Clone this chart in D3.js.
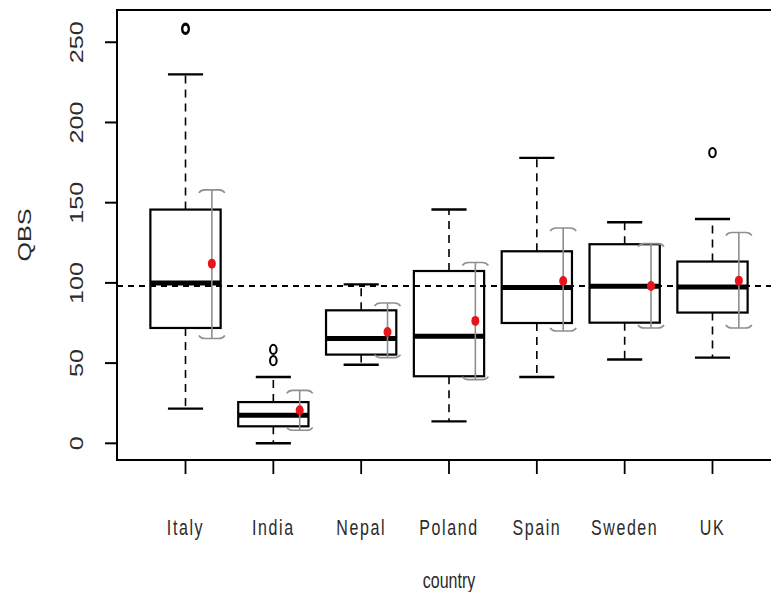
<!DOCTYPE html>
<html>
<head>
<meta charset="utf-8">
<script src="https://cdn.jsdelivr.net/npm/d3@7"></script>
<style>
  html, body { margin: 0; padding: 0; background: #fff; }
  svg { display: block; }
  text { font-family: "Liberation Sans", Arial, sans-serif; fill: #2b2b2b; }
</style>
</head>
<body>
<svg id="chart" width="771" height="592"></svg>
<script>
// ---- data ----
const countries    = ["Italy", "India", "Nepal", "Poland", "Spain", "Sweden", "UK"];
const lowerWhisker = [21.6, 0, 49, 13.7, 41.3, 52.2, 53.4];
const q1           = [71.9, 10.6, 55.3, 41.8, 75, 75.2, 81.5];
const medians      = [100, 17.5, 65.3, 66.7, 97.1, 97.9, 97.5];
const q3           = [145.7, 25.7, 82.9, 107.4, 119.7, 124.1, 113.3];
const upperWhisker = [230, 41.3, 99.1, 145.7, 177.9, 137.8, 139.8];
const means        = [112, 20.6, 69.4, 76.3, 101.2, 98.1, 101.4];
const ciLow        = [65.3, 8.1, 53.4, 39.7, 70, 71.9, 71.9];
const ciHigh       = [158, 33, 87.5, 112.7, 134.2, 124.5, 131.4];
const outlierCountry = ["Italy", "Italy", "India", "India", "UK"];
const outlierValue   = [258, 258.8, 58.5, 51.5, 181.2];
const referenceValue = 98;
const yTicks = [0, 50, 100, 150, 200, 250];
const xTitle = "country";
const yTitle = "QBS";

// ---- layout ----
const plotL = 117, plotR = 781, plotT = 10, plotB = 460;
const svg = d3.select("#chart");

const x = d3.scaleLinear().domain([0.22, 7.78]).range([plotL, plotR]);
const y = d3.scaleLinear().domain([-10.4, 270.1]).range([plotB, plotT]);
const pos = c => x(countries.indexOf(c) + 1);
const unit = x(1) - x(0);
const boxW = 0.8 * unit, capW = 0.4 * unit, meanOff = 0.3 * unit;

const data = countries.map((c, i) => ({
  c, lw: lowerWhisker[i], q1: q1[i], med: medians[i], q3: q3[i], uw: upperWhisker[i],
  mean: means[i], lo: ciLow[i], hi: ciHigh[i]
}));

const g = svg.append("g");

// reference line
g.append("line")
  .attr("x1", plotL).attr("x2", plotR)
  .attr("y1", y(referenceValue)).attr("y2", y(referenceValue))
  .attr("stroke", "#000").attr("stroke-width", 2).attr("stroke-dasharray", "6,5");

// boxes
const bx = g.selectAll("g.box").data(data).join("g").attr("class", "box");
bx.append("line").attr("x1", d => pos(d.c)).attr("x2", d => pos(d.c))
  .attr("y1", d => y(d.q3)).attr("y2", d => y(d.uw))
  .attr("stroke", "#000").attr("stroke-width", 1.6).attr("stroke-dasharray", "8,6");
bx.append("line").attr("x1", d => pos(d.c)).attr("x2", d => pos(d.c))
  .attr("y1", d => y(d.q1)).attr("y2", d => y(d.lw))
  .attr("stroke", "#000").attr("stroke-width", 1.6).attr("stroke-dasharray", "8,6");
bx.append("line").attr("x1", d => pos(d.c) - capW / 2).attr("x2", d => pos(d.c) + capW / 2)
  .attr("y1", d => y(d.uw)).attr("y2", d => y(d.uw))
  .attr("stroke", "#000").attr("stroke-width", 2.4);
bx.append("line").attr("x1", d => pos(d.c) - capW / 2).attr("x2", d => pos(d.c) + capW / 2)
  .attr("y1", d => y(d.lw)).attr("y2", d => y(d.lw))
  .attr("stroke", "#000").attr("stroke-width", 2.4);
bx.append("rect")
  .attr("x", d => pos(d.c) - boxW / 2).attr("width", boxW)
  .attr("y", d => y(d.q3)).attr("height", d => y(d.q1) - y(d.q3))
  .attr("fill", "none").attr("stroke", "#000").attr("stroke-width", 2.2);
bx.append("line").attr("x1", d => pos(d.c) - boxW / 2).attr("x2", d => pos(d.c) + boxW / 2)
  .attr("y1", d => y(d.med)).attr("y2", d => y(d.med))
  .attr("stroke", "#000").attr("stroke-width", 5);

// outliers
g.selectAll("ellipse.out").data(outlierValue).join("ellipse").attr("class", "out")
  .attr("cx", (v, i) => pos(outlierCountry[i]))
  .attr("cy", v => y(v))
  .attr("rx", 3.3).attr("ry", 4.6)
  .attr("fill", "none").attr("stroke", "#000").attr("stroke-width", 2);

// CI bars (gray)
const ci = g.selectAll("g.ci").data(data).join("g").attr("class", "ci");
ci.append("line").attr("x1", d => pos(d.c) + meanOff).attr("x2", d => pos(d.c) + meanOff)
  .attr("y1", d => y(d.hi)).attr("y2", d => y(d.lo))
  .attr("stroke", "#8f8f8f").attr("stroke-width", 1.6);
ci.append("path").attr("d", d => {
  const cx = pos(d.c) + meanOff, cy = y(d.hi);
  return `M${cx - 13},${cy + 3} Q${cx - 11},${cy} ${cx - 7},${cy} L${cx + 7},${cy} Q${cx + 11},${cy} ${cx + 13},${cy + 3}`;
}).attr("fill", "none").attr("stroke", "#8f8f8f").attr("stroke-width", 1.6);
ci.append("path").attr("d", d => {
  const cx = pos(d.c) + meanOff, cy = y(d.lo);
  return `M${cx - 13},${cy - 3} Q${cx - 11},${cy} ${cx - 7},${cy} L${cx + 7},${cy} Q${cx + 11},${cy} ${cx + 13},${cy - 3}`;
}).attr("fill", "none").attr("stroke", "#8f8f8f").attr("stroke-width", 1.6);
ci.append("ellipse").attr("cx", d => pos(d.c) + meanOff).attr("cy", d => y(d.mean))
  .attr("rx", 4).attr("ry", 5).attr("fill", "#e8141b");

// frame
svg.append("rect").attr("x", plotL).attr("y", plotT)
  .attr("width", plotR - plotL).attr("height", plotB - plotT)
  .attr("fill", "none").attr("stroke", "#000").attr("stroke-width", 2);

// y axis ticks
svg.selectAll("line.yt").data(yTicks).join("line").attr("class", "yt")
  .attr("x1", plotL - 12).attr("x2", plotL).attr("y1", d => y(d)).attr("y2", d => y(d))
  .attr("stroke", "#000").attr("stroke-width", 2);
svg.selectAll("text.yl").data(yTicks).join("text").attr("class", "yl")
  .attr("transform", d => `translate(77,${y(d)}) scale(1,1.4) rotate(-90)`)
  .attr("text-anchor", "middle").attr("dy", "0.36em")
  .style("font-size", "18px").text(d => d);

// x axis ticks
svg.selectAll("line.xt").data(countries).join("line").attr("class", "xt")
  .attr("x1", d => pos(d)).attr("x2", d => pos(d)).attr("y1", plotB).attr("y2", plotB + 14)
  .attr("stroke", "#000").attr("stroke-width", 1.8);
svg.selectAll("text.xl").data(countries).join("text").attr("class", "xl")
  .attr("transform", d => `translate(${pos(d)},527) scale(1,1.4)`)
  .attr("text-anchor", "middle").attr("dy", "0.36em")
  .style("font-size", "16px").style("letter-spacing", "1.6px").text(d => d);

// titles
svg.append("text")
  .attr("transform", `translate(${(plotL + plotR) / 2},580) scale(1,1.4)`)
  .attr("text-anchor", "middle").attr("dy", "0.36em")
  .style("font-size", "16px").text(xTitle);
svg.append("text")
  .attr("transform", `translate(25,${(plotT + plotB) / 2}) scale(1,1.4) rotate(-90)`)
  .attr("text-anchor", "middle").attr("dy", "0.36em")
  .style("font-size", "18px").text(yTitle);
</script>
</body>
</html>
